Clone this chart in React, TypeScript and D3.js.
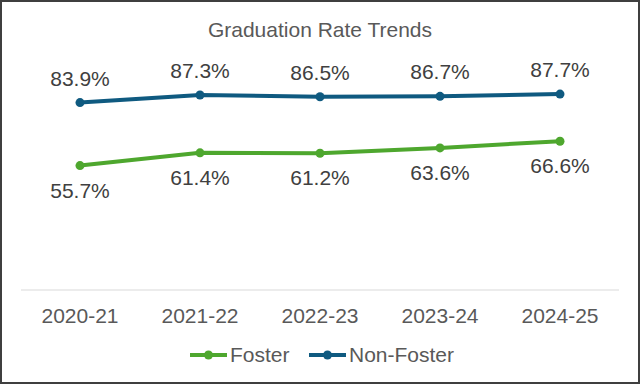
import { scalePoint, scaleLinear, line } from "d3";

const years = ["2020-21", "2021-22", "2022-23", "2023-24", "2024-25"];
const foster = [55.7, 61.4, 61.2, 63.6, 66.6];
const nonFoster = [83.9, 87.3, 86.5, 86.7, 87.7];

const WIDTH = 640;
const HEIGHT = 384;
const FONT = "'Liberation Sans', Arial, sans-serif";
const GREEN = "#4ea72e";
const BLUE = "#0f5a80";

const series = [
  { key: "foster", label: "Foster", color: GREEN, values: foster, labelDy: 32 },
  { key: "nonFoster", label: "Non-Foster", color: BLUE, values: nonFoster, labelDy: -17 },
];

export default function App() {
  const x = scalePoint<string>().domain(years).range([20, 620]).padding(0.5);
  const y = scaleLinear().domain([0, 100]).range([290, 66.6]);

  const path = line<number>()
    .x((_, i) => x(years[i]) ?? 0)
    .y((v) => y(v));

  const legend = [
    { ...series[0], x0: 190 },
    { ...series[1], x0: 309 },
  ];

  return (
    <>
      <style>{`body{margin:0}`}</style>
      <svg width={WIDTH} height={HEIGHT} style={{ display: "block", background: "#fff" }} fontFamily={FONT}>
        <rect x={1} y={1} width={WIDTH - 2} height={HEIGHT - 2} fill="#fff" stroke="#3f3f3f" strokeWidth={2} />

        <text x={320} y={37} textAnchor="middle" fontSize={21} fill="#595959">
          Graduation Rate Trends
        </text>

        {/* baseline */}
        <line x1={21} x2={619} y1={y(0)} y2={y(0)} stroke="#d9d9d9" strokeWidth={1} />

        {years.map((yr) => (
          <text key={yr} x={x(yr)} y={323} textAnchor="middle" fontSize={21} fill="#595959">
            {yr}
          </text>
        ))}

        {series.map((s) => (
          <g key={s.key}>
            <path d={path(s.values) ?? ""} fill="none" stroke={s.color} strokeWidth={4} strokeLinejoin="round" />
            {s.values.map((v, i) => (
              <circle key={i} cx={x(years[i])} cy={y(v)} r={4.5} fill={s.color} />
            ))}
            {s.values.map((v, i) => (
              <text key={`l${i}`} x={x(years[i])} y={y(v) + s.labelDy} textAnchor="middle" fontSize={21} fill="#404040">
                {v.toFixed(1)}%
              </text>
            ))}
          </g>
        ))}

        {/* Legend */}
        {legend.map((l) => (
          <g key={l.key}>
            <line x1={l.x0} x2={l.x0 + 37} y1={355} y2={355} stroke={l.color} strokeWidth={4} />
            <circle cx={l.x0 + 18.5} cy={355} r={4.5} fill={l.color} />
            <text x={l.x0 + 40} y={362} fontSize={21} fill="#595959">
              {l.label}
            </text>
          </g>
        ))}
      </svg>
    </>
  );
}
